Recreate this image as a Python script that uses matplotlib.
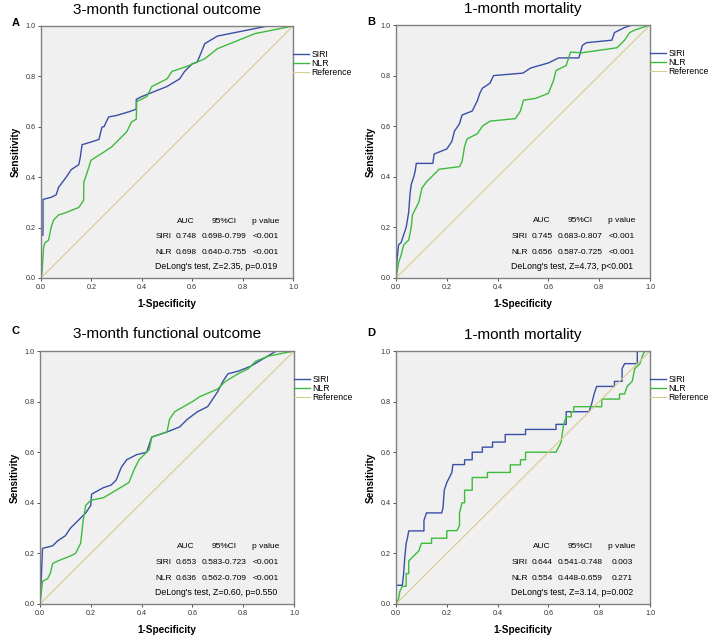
import matplotlib.pyplot as plt

# ROC curve vertices (1-specificity, sensitivity)
a_siri_x = [0, 0, 0.008, 0.008, 0.04, 0.06, 0.07, 0.10, 0.12, 0.15, 0.156, 0.163, 0.20, 0.23, 0.242, 0.25, 0.268, 0.30, 0.35, 0.378, 0.378, 0.40, 0.45, 0.50, 0.55, 0.57, 0.60, 0.62, 0.639, 0.65, 0.70, 0.80, 0.90, 1.0]
a_siri_y = [0, 0.169, 0.17, 0.312, 0.32, 0.33, 0.36, 0.40, 0.43, 0.45, 0.48, 0.529, 0.54, 0.55, 0.599, 0.60, 0.639, 0.645, 0.66, 0.67, 0.709, 0.72, 0.74, 0.76, 0.79, 0.82, 0.85, 0.857, 0.903, 0.93, 0.96, 0.98, 1.0, 1.0]
a_nlr_x = [0, 0.004, 0.01, 0.015, 0.03, 0.04, 0.05, 0.07, 0.10, 0.15, 0.169, 0.17, 0.19, 0.198, 0.25, 0.28, 0.30, 0.32, 0.34, 0.35, 0.36, 0.378, 0.38, 0.42, 0.44, 0.50, 0.52, 0.58, 0.65, 0.70, 0.80, 0.85, 1.0]
a_nlr_y = [0, 0.02, 0.12, 0.139, 0.15, 0.20, 0.23, 0.25, 0.26, 0.28, 0.308, 0.38, 0.44, 0.467, 0.50, 0.52, 0.54, 0.56, 0.58, 0.60, 0.62, 0.63, 0.70, 0.72, 0.76, 0.79, 0.82, 0.84, 0.87, 0.91, 0.95, 0.97, 1.0]

b_siri_x = [0, 0.003, 0.01, 0.02, 0.03, 0.04, 0.05, 0.055, 0.06, 0.07, 0.075, 0.08, 0.145, 0.15, 0.20, 0.22, 0.23, 0.25, 0.26, 0.30, 0.32, 0.33, 0.34, 0.37, 0.384, 0.50, 0.53, 0.60, 0.64, 0.72, 0.734, 0.75, 0.85, 0.86, 0.90, 0.93, 1.0]
b_siri_y = [0, 0.06, 0.131, 0.14, 0.17, 0.20, 0.26, 0.33, 0.37, 0.40, 0.42, 0.453, 0.453, 0.49, 0.51, 0.54, 0.58, 0.61, 0.644, 0.66, 0.70, 0.73, 0.75, 0.77, 0.80, 0.81, 0.83, 0.85, 0.87, 0.87, 0.92, 0.93, 0.94, 0.97, 0.99, 1.0, 1.0]
b_nlr_x = [0, 0.01, 0.02, 0.03, 0.05, 0.06, 0.065, 0.08, 0.09, 0.102, 0.12, 0.15, 0.17, 0.25, 0.26, 0.27, 0.28, 0.32, 0.34, 0.37, 0.47, 0.49, 0.502, 0.55, 0.60, 0.62, 0.63, 0.67, 0.687, 0.73, 0.80, 0.87, 0.90, 0.92, 0.94, 1.0]
b_nlr_y = [0, 0.06, 0.09, 0.13, 0.15, 0.20, 0.25, 0.28, 0.30, 0.355, 0.38, 0.41, 0.43, 0.44, 0.46, 0.52, 0.55, 0.57, 0.60, 0.62, 0.63, 0.66, 0.703, 0.71, 0.73, 0.78, 0.82, 0.84, 0.893, 0.89, 0.90, 0.91, 0.94, 0.97, 0.98, 1.0]

c_siri_x = [0, 0.005, 0.01, 0.05, 0.07, 0.10, 0.12, 0.14, 0.16, 0.18, 0.20, 0.203, 0.25, 0.28, 0.30, 0.32, 0.341, 0.38, 0.42, 0.44, 0.47, 0.50, 0.55, 0.58, 0.62, 0.66, 0.70, 0.72, 0.74, 0.78, 0.83, 0.88, 0.93, 1.0]
c_siri_y = [0, 0.099, 0.22, 0.23, 0.25, 0.27, 0.30, 0.32, 0.34, 0.36, 0.39, 0.434, 0.46, 0.47, 0.49, 0.54, 0.57, 0.59, 0.60, 0.66, 0.67, 0.68, 0.70, 0.73, 0.76, 0.78, 0.84, 0.88, 0.91, 0.92, 0.94, 0.97, 1.0, 1.0]
c_nlr_x = [0, 0.01, 0.03, 0.04, 0.05, 0.07, 0.12, 0.14, 0.16, 0.17, 0.18, 0.20, 0.25, 0.30, 0.35, 0.37, 0.39, 0.43, 0.44, 0.50, 0.51, 0.53, 0.60, 0.63, 0.70, 0.73, 0.78, 0.82, 0.85, 0.90, 0.95, 1.0]
c_nlr_y = [0, 0.09, 0.10, 0.12, 0.16, 0.17, 0.19, 0.20, 0.24, 0.33, 0.39, 0.41, 0.42, 0.45, 0.48, 0.53, 0.57, 0.61, 0.66, 0.68, 0.73, 0.76, 0.80, 0.82, 0.85, 0.88, 0.91, 0.93, 0.96, 0.98, 0.99, 1.0]

d_siri_x = [0, 0, 0.025, 0.03, 0.035, 0.04, 0.045, 0.05, 0.11, 0.11, 0.12, 0.18, 0.185, 0.19, 0.20, 0.21, 0.22, 0.224, 0.27, 0.27, 0.30, 0.30, 0.34, 0.34, 0.38, 0.38, 0.43, 0.43, 0.51, 0.51, 0.63, 0.63, 0.67, 0.67, 0.76, 0.77, 0.78, 0.79, 0.86, 0.86, 0.89, 0.89, 0.90, 0.95, 0.95, 1.0]
d_siri_y = [0, 0.074, 0.074, 0.12, 0.19, 0.24, 0.26, 0.289, 0.289, 0.33, 0.36, 0.36, 0.38, 0.45, 0.48, 0.50, 0.52, 0.551, 0.551, 0.57, 0.57, 0.60, 0.60, 0.62, 0.62, 0.64, 0.64, 0.67, 0.67, 0.69, 0.69, 0.71, 0.71, 0.76, 0.76, 0.79, 0.83, 0.86, 0.86, 0.88, 0.88, 0.93, 0.95, 0.95, 1.0, 1.0]
d_nlr_x = [0, 0.01, 0.015, 0.025, 0.04, 0.04, 0.05, 0.05, 0.07, 0.09, 0.10, 0.14, 0.14, 0.20, 0.20, 0.24, 0.25, 0.25, 0.26, 0.27, 0.27, 0.30, 0.30, 0.36, 0.36, 0.45, 0.45, 0.49, 0.49, 0.51, 0.51, 0.63, 0.64, 0.65, 0.66, 0.67, 0.69, 0.69, 0.70, 0.70, 0.81, 0.81, 0.88, 0.88, 0.90, 0.91, 0.93, 0.94, 0.96, 0.97, 0.98, 1.0]
d_nlr_y = [0, 0.02, 0.05, 0.07, 0.07, 0.12, 0.12, 0.17, 0.19, 0.21, 0.24, 0.24, 0.26, 0.26, 0.29, 0.29, 0.31, 0.36, 0.40, 0.40, 0.45, 0.45, 0.50, 0.50, 0.52, 0.52, 0.55, 0.55, 0.57, 0.57, 0.60, 0.60, 0.62, 0.64, 0.71, 0.74, 0.74, 0.76, 0.76, 0.78, 0.78, 0.81, 0.81, 0.83, 0.83, 0.86, 0.88, 0.93, 0.95, 0.98, 1.0, 1.0]

panel_letters = ["A", "B", "C", "D"]
panel_titles = ["3-month functional outcome", "1-month mortality", "3-month functional outcome", "1-month mortality"]
curves = [(a_siri_x, a_siri_y, a_nlr_x, a_nlr_y), (b_siri_x, b_siri_y, b_nlr_x, b_nlr_y),
          (c_siri_x, c_siri_y, c_nlr_x, c_nlr_y), (d_siri_x, d_siri_y, d_nlr_x, d_nlr_y)]
table_header = ["AUC", "95%CI", "p value"]
table_rows = [
    [["SIRI", "0.748", "0.698-0.799", "<0.001"], ["NLR", "0.698", "0.640-0.755", "<0.001"]],
    [["SIRI", "0.745", "0.683-0.807", "<0.001"], ["NLR", "0.656", "0.587-0.725", "<0.001"]],
    [["SIRI", "0.653", "0.583-0.723", "<0.001"], ["NLR", "0.636", "0.562-0.709", "<0.001"]],
    [["SIRI", "0.644", "0.541-0.748", "0.003"], ["NLR", "0.554", "0.448-0.659", "0.271"]],
]
delong = ["DeLong's test, Z=2.35, p=0.019", "DeLong's test, Z=4.73, p<0.001",
          "DeLong's test, Z=0.60, p=0.550", "DeLong's test, Z=3.14, p=0.002"]
ticks = [0.0, 0.2, 0.4, 0.6, 0.8, 1.0]

plt.rcParams['font.family'] = ['Liberation Sans', 'DejaVu Sans']

blue = "#3a4fa6"
green = "#3dbb3d"
ref_col = "#d8cb8e"

fig = plt.figure(figsize=(7.08, 6.36), dpi=100)
W, H = 708, 636
boxes = [(41, 26, 252, 252), (396, 25, 254, 253), (40, 351, 254, 253), (396, 351, 254, 253)]
letter_pos = [(16, 23), (371, 22), (15, 331), (371, 333)]

for i in range(4):
    l, t, w, h = boxes[i]
    ax = fig.add_axes([l / W, 1 - (t + h) / H, w / W, h / H])
    ax.set_facecolor("#f0f0f0")
    sx, sy, nx, ny = curves[i]
    ax.plot(sx, sy, color=blue, lw=1.0, label="SIRI")
    ax.plot(nx, ny, color=green, lw=1.0, label="NLR")
    ax.plot([0, 1], [0, 1], color=ref_col, lw=0.8, label="Reference")
    ax.set_xlim(0, 1)
    ax.set_ylim(0, 1)
    ax.set_xticks(ticks)
    ax.set_yticks(ticks)
    ax.set_xticklabels([f"{v:.1f}" for v in ticks])
    ax.set_yticklabels([f"{v:.1f}" for v in ticks])
    ax.tick_params(labelsize=5.2, length=2, width=0.6, pad=2, colors="#333333")
    for s in ax.spines.values():
        s.set_color("#808080")
        s.set_linewidth(1.0)
    ax.set_xlabel("1-Specificity", fontsize=7.2, fontweight="bold", labelpad=6)
    ax.set_ylabel("Sensitivity", fontsize=7.2, fontweight="bold", labelpad=3)
    ax.set_title(panel_titles[i], fontsize=11, pad=9)
    fig.text(letter_pos[i][0] / W, 1 - letter_pos[i][1] / H, panel_letters[i],
             fontsize=8, fontweight="bold", ha="center", va="center")
    ax.legend(loc="upper left", bbox_to_anchor=(1.0, 0.905), frameon=False,
              fontsize=6.2, handlelength=1.9, handletextpad=0.25, labelspacing=0.0,
              borderaxespad=0.0, borderpad=0.0)

    # statistics table
    cols = [0.454, 0.575, 0.725, 0.89]
    for j, txt in enumerate(table_header):
        ax.text(cols[j + 1], 0.226, txt, ha="center", va="center", fontsize=6.0)
    for r, row in enumerate(table_rows[i]):
        yy = 0.163 - r * 0.063
        ax.text(cols[0], yy, row[0], ha="left", va="center", fontsize=6.0)
        for j in range(1, 4):
            ax.text(cols[j], yy, row[j], ha="center", va="center", fontsize=6.0)
    ax.text(cols[0], 0.044, delong[i], ha="left", va="center", fontsize=6.3)

fig.savefig("out.png", dpi=100)
